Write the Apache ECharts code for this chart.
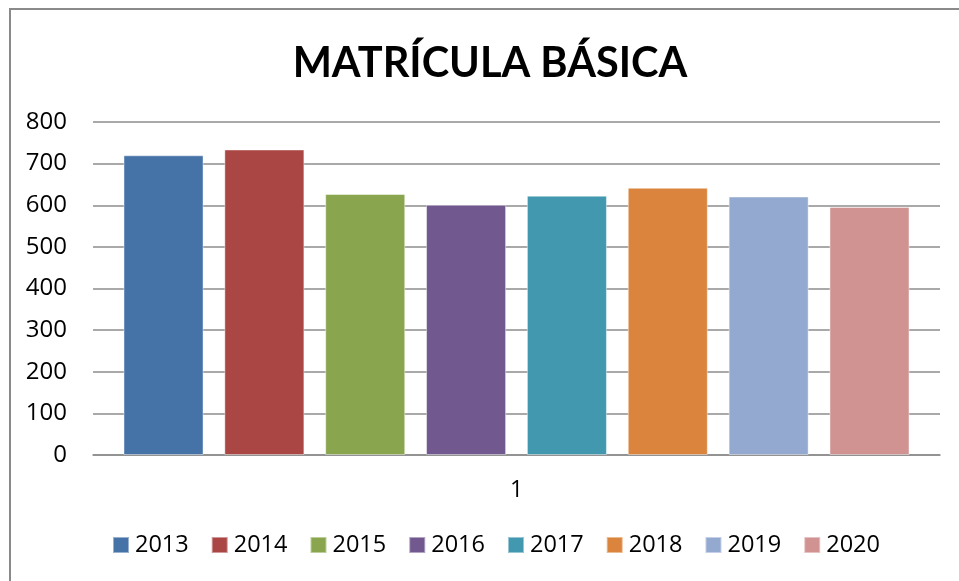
<!DOCTYPE html>
<html>
<head>
<meta charset="utf-8">
<script src="https://cdn.jsdelivr.net/npm/echarts@6/dist/echarts.min.js"></script>
<style>
html,body{margin:0;padding:0;background:#fff;}
#frame{position:absolute;left:9px;top:8px;width:960px;height:580px;border-left:2px solid #8a8a8a;border-top:2px solid #8a8a8a;box-sizing:border-box;}
#chart{position:absolute;left:0;top:0;width:959px;height:581px;}
</style>
</head>
<body>
<div id="frame"></div>
<div id="chart"></div>
<script>
const titleText = 'MATRÍCULA BÁSICA';
const categories = ['1'];
const seriesNames = ['2013','2014','2015','2016','2017','2018','2019','2020'];
const seriesValues = [720, 734, 627, 601, 623, 642, 621, 596];
const seriesColors = ['#4572A7','#AA4643','#89A54E','#71588F','#4198AF','#DB843D','#93A9CF','#D19392'];
const yTicks = [0,100,200,300,400,500,600,700,800];

const chart = echarts.init(document.getElementById('chart'), null, {renderer:'canvas'});
const option = {
  animation:false,
  title:{
    text:titleText,
    left:485, textAlign:'center', top:38,
    textStyle:{fontFamily:'Lato', fontWeight:'bold', fontSize:41.5, color:'#000'}
  },
  legend:{
    data:seriesNames,
    bottom:19, left:107,
    itemWidth:16, itemHeight:16, itemGap:22,
    icon:'rect',
    textStyle:{fontFamily:'Open Sans', fontSize:23.5, color:'#000', padding:[0,0,0,1]}
  },
  grid:{left:93, right:19, top:122, bottom:126},
  xAxis:{
    type:'category', data:categories,
    axisLine:{lineStyle:{color:'#8c8c8c', width:1.5}},
    axisTick:{show:false},
    axisLabel:{fontFamily:'Open Sans', fontSize:23, color:'#000', margin:24}
  },
  yAxis:{
    type:'value', min:yTicks[0], max:yTicks[yTicks.length-1], interval:100,
    axisLine:{show:false}, axisTick:{show:false},
    axisLabel:{fontFamily:'Open Sans', fontSize:24, color:'#000', margin:26},
    splitLine:{lineStyle:{color:'#8c8c8c', width:1.5}}
  },
  series: seriesNames.map((n,i)=>({
    name:n, type:'bar',
    data:[seriesValues[i]],
    barGap:'26%', barCategoryGap:'7.2%',
    itemStyle:{color:seriesColors[i], borderColor:'rgba(255,255,255,0.45)', borderWidth:1}
  }))
};
chart.setOption(option);
</script>
</body>
</html>
